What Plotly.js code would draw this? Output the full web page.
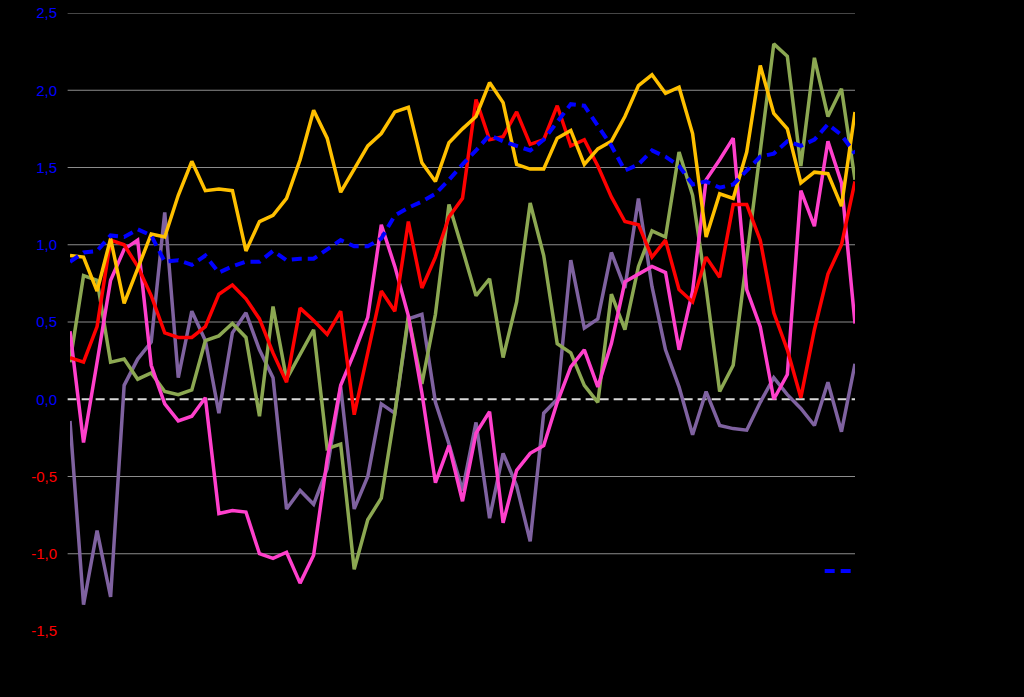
<!DOCTYPE html>
<html>
<head>
<meta charset="utf-8">
<script src="https://cdn.plot.ly/plotly-3.0.1.min.js"></script>
<style>
html,body{margin:0;padding:0;background:#000;}
#chart{width:1024px;height:697px;}
</style>
</head>
<body>
<div id="chart"></div>
<script>
// ---- data ----
var periods = [];
for (var i = 1; i <= 59; i++) periods.push(i);

var seriesYellow = [0.93,0.92,0.70,1.04,0.62,0.84,1.07,1.05,1.32,1.54,1.35,1.36,1.35,0.96,1.15,1.19,1.30,1.55,1.87,1.69,1.34,1.49,1.64,1.72,1.86,1.89,1.53,1.41,1.66,1.75,1.83,2.05,1.92,1.52,1.49,1.49,1.69,1.74,1.52,1.62,1.67,1.83,2.03,2.10,1.98,2.02,1.72,1.05,1.33,1.30,1.60,2.16,1.85,1.75,1.40,1.47,1.46,1.25,1.86];

var seriesBlue = [0.89,0.95,0.96,1.06,1.05,1.10,1.06,0.89,0.90,0.87,0.93,0.82,0.86,0.89,0.89,0.96,0.90,0.91,0.91,0.97,1.03,0.99,0.99,1.04,1.19,1.24,1.28,1.33,1.42,1.52,1.61,1.71,1.67,1.64,1.61,1.68,1.79,1.91,1.90,1.77,1.64,1.48,1.52,1.61,1.57,1.51,1.39,1.41,1.37,1.39,1.48,1.57,1.59,1.67,1.64,1.68,1.78,1.71,1.59];

var seriesRed = [0.27,0.24,0.47,1.03,1.00,0.86,0.67,0.43,0.40,0.40,0.47,0.68,0.74,0.65,0.52,0.30,0.11,0.59,0.51,0.42,0.57,-0.10,0.30,0.70,0.57,1.15,0.72,0.92,1.18,1.30,1.94,1.68,1.70,1.86,1.65,1.68,1.90,1.64,1.68,1.51,1.31,1.15,1.13,0.92,1.03,0.71,0.63,0.92,0.79,1.26,1.26,1.03,0.56,0.32,0.01,0.45,0.81,1.00,1.41];

var seriesPink = [0.44,-0.28,0.24,0.77,0.97,1.03,0.22,-0.03,-0.14,-0.11,0.01,-0.74,-0.72,-0.73,-1.00,-1.03,-0.99,-1.19,-1.01,-0.39,0.09,0.30,0.53,1.13,0.86,0.54,0.04,-0.54,-0.30,-0.66,-0.22,-0.08,-0.80,-0.46,-0.35,-0.30,-0.02,0.21,0.32,0.08,0.36,0.76,0.81,0.86,0.82,0.32,0.70,1.42,1.55,1.69,0.71,0.47,0.00,0.16,1.35,1.12,1.67,1.40,0.49];

var seriesGreen = [0.24,0.80,0.77,0.24,0.26,0.13,0.17,0.05,0.03,0.06,0.38,0.41,0.49,0.40,-0.11,0.60,0.13,0.29,0.45,-0.32,-0.29,-1.10,-0.78,-0.64,-0.09,0.54,0.10,0.55,1.26,0.97,0.67,0.78,0.27,0.63,1.27,0.93,0.36,0.30,0.09,-0.02,0.68,0.45,0.86,1.09,1.05,1.60,1.32,0.72,0.05,0.22,0.90,1.58,2.30,2.22,1.51,2.21,1.83,2.01,1.42];

var seriesPurple = [-0.14,-1.33,-0.85,-1.28,0.09,0.26,0.37,1.21,0.14,0.57,0.38,-0.09,0.43,0.56,0.32,0.14,-0.71,-0.59,-0.68,-0.45,0.08,-0.71,-0.50,-0.03,-0.09,0.52,0.55,-0.02,-0.29,-0.59,-0.15,-0.77,-0.35,-0.56,-0.92,-0.09,0.00,0.90,0.46,0.52,0.95,0.72,1.30,0.73,0.32,0.08,-0.23,0.05,-0.17,-0.19,-0.20,-0.02,0.14,0.03,-0.06,-0.17,0.11,-0.21,0.23];

var tickValues = [2.5, 2.0, 1.5, 1.0, 0.5, 0.0, -0.5, -1.0, -1.5];
var tickLabels = ["2,5","2,0","1,5","1,0","0,5","0,0","-0,5","-1,0","-1,5"];
var gridLevels = [2.5, 2.0, 1.5, 1.0, 0.5, -0.5, -1.0];
var legendName = "Média";

// ---- build ----
function line(y, color, name) {
  return {x: periods, y: y, type: 'scatter', mode: 'lines', name: name,
    line: {color: color, width: 3.5}, showlegend: false, hoverinfo: 'skip'};
}

var traces = [
  line(seriesPurple, '#7F62A0', 'S5'),
  line(seriesGreen, '#8CA852', 'S4'),
  line(seriesPink, '#FF40CC', 'S3'),
  line(seriesRed, '#FF0000', 'S2'),
  line(seriesYellow, '#FFC000', 'S1'),
  {x: periods, y: seriesBlue, type: 'scatter', mode: 'lines', name: legendName,
   line: {color: '#0000FF', width: 4, dash: '10px,6px'}, showlegend: true, hoverinfo: 'skip'}
];

var coloredTicks = tickLabels.map(function (lab, i) {
  var c = tickValues[i] < 0 ? '#FF0000' : '#0000FF';
  return '<span style="color:' + c + '">' + lab + '</span>';
});

var shapes = gridLevels.map(function (g) {
  return {type: 'line', xref: 'paper', x0: -0.003, x1: 1, yref: 'y', y0: g, y1: g,
          line: {color: '#8c8c8c', width: 1}, layer: 'below'};
});
shapes.push({type: 'line', xref: 'paper', x0: -0.003, x1: 1, yref: 'y', y0: 0, y1: 0,
             line: {color: '#D9D9D9', width: 2, dash: '9px,5px'}, layer: 'below'});

var layout = {
  width: 1024, height: 697,
  paper_bgcolor: '#000000', plot_bgcolor: '#000000',
  margin: {l: 70, r: 169, t: 13, b: 66, pad: 0},
  font: {family: 'Liberation Sans, Arial, sans-serif', size: 15, color: '#000000'},
  xaxis: {range: [1, 59], showgrid: false, zeroline: false, showline: false,
          showticklabels: false, ticks: '', fixedrange: true},
  yaxis: {range: [-1.5, 2.5], tickvals: tickValues, ticktext: coloredTicks,
          showgrid: false, zeroline: false, showline: false, ticks: '',
          ticklabelstandoff: 12, tickfont: {size: 15, color: '#0000FF'}, fixedrange: true},
  shapes: shapes,
  showlegend: true,
  legend: {x: 0.955, y: 0.097, xanchor: 'left', yanchor: 'middle',
           bgcolor: 'rgba(0,0,0,0)', font: {color: '#000000', size: 13}},
  hovermode: false
};

Plotly.newPlot('chart', traces, layout, {displayModeBar: false, staticPlot: true});
</script>
</body>
</html>
